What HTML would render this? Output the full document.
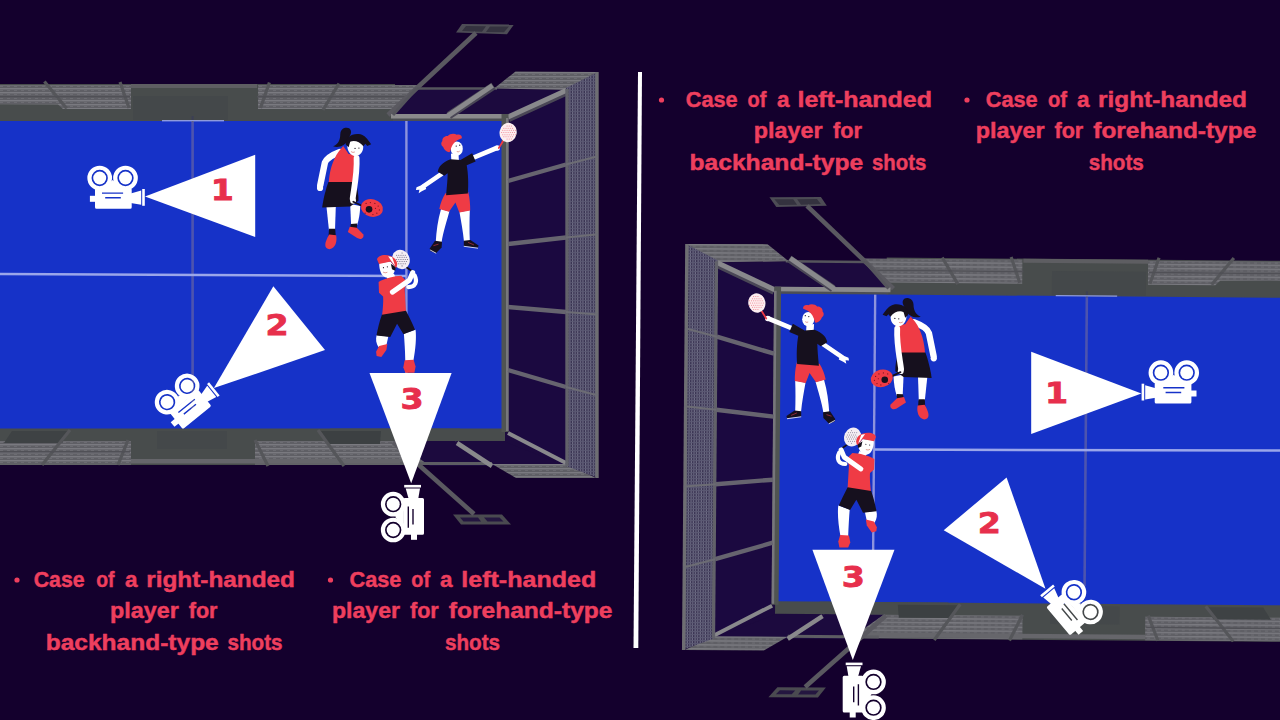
<!DOCTYPE html>
<html><head><meta charset="utf-8"><title>Camera positions</title>
<style>
html,body{margin:0;padding:0;background:#14002d;overflow:hidden}
svg{display:block}
.t{font-family:"Liberation Sans",sans-serif;font-weight:bold;font-size:22px;fill:#ee3f5e;stroke:#ee3f5e;stroke-width:0.45px}
.n{font-family:"DejaVu Sans","Liberation Sans",sans-serif;font-weight:bold;font-size:28.4px;fill:#e72f4c;stroke:#e72f4c;stroke-width:0.8px;text-anchor:middle}
</style></head><body>
<svg width="1280" height="720" viewBox="0 0 1280 720">
<defs>
<pattern id="meshH" width="7" height="4" patternUnits="userSpaceOnUse">
<rect width="7" height="4" fill="#5f5f65"/><rect y="0" width="7" height="1.4" fill="#7a7a80"/><rect x="0" y="2" width="3" height="1" fill="#6d6d73"/>
</pattern>
<pattern id="meshV" width="2.6" height="3" patternUnits="userSpaceOnUse">
<rect width="2.6" height="3" fill="#393352"/><rect width="1.15" height="3" fill="#706e86"/><rect width="2.6" height="0.85" fill="#5a5872"/>
</pattern>
<g id="court">
<polygon points="462,24 514,24.5 507,34.2 456,32.6" fill="#4d4c55"/>
<polygon points="466,26 486,26.3 482,31.8 462,31" fill="#34323f"/>
<polygon points="490,26.4 509,26.6 504,32.2 486,31.9" fill="#34323f"/>
<polygon points="453,514.5 502,514.5 511,524.5 461,524.5" fill="#4a4a50"/>
<polygon points="460,517.5 478,517.5 481,521.5 463.5,521.5" fill="#241640"/>
<polygon points="484,517.5 499.5,517.5 503.5,521.5 487.5,521.5" fill="#241640"/>
<polygon points="393,116 417,88 566,90 566,466 492,466 455,441 508,431 508,117" fill="#1c0a3e"/>
<polygon points="508,117 566,90 566,466 508,431" fill="#1b0940"/>
<rect x="-30" y="120" width="533" height="311.5" fill="#1632c8"/>
<rect x="191.3" y="121" width="2.6" height="290" fill="#4d54ae"/>
<rect x="405.2" y="121" width="2.4" height="308" fill="#8d93dd"/>
<polygon points="-30,272.5 406,274.8 406,277.3 -30,275" fill="#9aa6ea"/>
<rect x="-30" y="84" width="425" height="37" fill="#484c4c"/>
<polygon points="-30,85 131,85 131,109 63,109 58,104.5 -30,104" fill="url(#meshH)"/>
<polygon points="258,85 418,85 395,109 258,109" fill="url(#meshH)"/>
<rect x="131" y="84" width="126" height="4" fill="#5e5e62"/>
<rect x="133" y="96" width="95" height="24" fill="#44484a"/>
<path d="M44.4,81.6 L66.7,108.5" stroke="#55565a" stroke-width="3.2"/>
<path d="M120,82 L129,108" stroke="#55565a" stroke-width="3.2"/>
<path d="M269.4,82.5 L260.5,108" stroke="#55565a" stroke-width="3.2"/>
<path d="M339,83.5 L323,110" stroke="#55565a" stroke-width="3.2"/>
<rect x="-30" y="96" width="160" height="1.6" fill="#505056"/>
<rect x="257" y="96" width="148" height="1.6" fill="#505056"/>
<path d="M388,115 L476,33" stroke="#5a5960" stroke-width="4.6" fill="none"/>
<rect x="191.6" y="116" width="2" height="6" fill="#3c3f55"/>
<rect x="162" y="120" width="62" height="1.4" fill="#8f9bdc"/>
<rect x="-30" y="428.5" width="490" height="36.5" fill="#484c4c"/>
<rect x="-30" y="441" width="161" height="23.5" fill="url(#meshH)"/>
<rect x="255" y="441" width="205" height="23.5" fill="url(#meshH)"/>
<rect x="131" y="459" width="330" height="4.5" fill="#66666b"/>
<polygon points="12,431 70,431 62,443 4,443" fill="#3e4244"/>
<rect x="157" y="431" width="70" height="18" fill="#44484a"/>
<path d="M70,430 L42,465" stroke="#55565a" stroke-width="3.2"/>
<path d="M128,440 L118,465" stroke="#55565a" stroke-width="3.2"/>
<path d="M255,440 L268,466" stroke="#55565a" stroke-width="3.2"/>
<rect x="-30" y="451" width="160" height="1.6" fill="#505056"/>
<polygon points="395,441 455,441 492,466 430,466" fill="#1c0a3e"/>
<polygon points="455,441 503,441 566,466 492,466" fill="#1c0a3e"/>
<rect x="330" y="428.5" width="175" height="12.5" fill="#484c4c"/>
<polygon points="321,431 381,431 380,444 329,444" fill="#3c4042"/>
<path d="M400,463.5 L492,463.5" stroke="#5d5d63" stroke-width="3"/>
<path d="M457,443 L492,466" stroke="#89898c" stroke-width="4.5"/>
<path d="M508,433 L566,463" stroke="#89898c" stroke-width="4"/>
<path d="M318,430 L344,466" stroke="#55565a" stroke-width="3.2"/>
<path d="M393,442 L474,514" stroke="#5a5960" stroke-width="4.6" fill="none"/>
<polygon points="492,464 567,464 596,478 516,478" fill="url(#meshH)"/>
<path d="M417,88.5 L497,88.5" stroke="#55555c" stroke-width="2.5"/>
<polygon points="515.5,71.5 598,72 568,90 494,88.5" fill="url(#meshH)"/>
<rect x="393" y="114" width="115" height="7" fill="#4c4e54"/>
<path d="M391,116.3 L508,116.3" stroke="#8a8a8c" stroke-width="4.6"/>
<path d="M493.5,86 L449,115.5" stroke="#4a4756" stroke-width="7.5"/>
<path d="M492.5,85.5 L447.5,116" stroke="#89898c" stroke-width="5"/>
<path d="M567,93 L509,119.5" stroke="#4a4756" stroke-width="5"/>
<path d="M566,90.5 L508,117" stroke="#89898c" stroke-width="5"/>
<path d="M417,88 L393,115" stroke="#55555c" stroke-width="3"/>
<rect x="501.5" y="114" width="7" height="318" fill="#505452"/>
<rect x="506" y="118" width="2.6" height="313" fill="#77777b"/>
<polygon points="566,88 598,72 598,478 566,466" fill="url(#meshV)"/>
<path d="M597,72 L597,478" stroke="#6e6e72" stroke-width="3.4"/>
<path d="M567,89 L567,466" stroke="#62626a" stroke-width="3.4"/>
<path d="M508,181 L566,164.5" stroke="#66646f" stroke-width="4.4"/>
<path d="M566,164.5 L598,156.25" stroke="#6c6c74" stroke-width="2"/>
<path d="M508,244 L566,237.5" stroke="#66646f" stroke-width="4.4"/>
<path d="M566,237.5 L598,234.25" stroke="#6c6c74" stroke-width="2"/>
<path d="M508,307 L566,312" stroke="#66646f" stroke-width="4.4"/>
<path d="M566,312 L598,314.5" stroke="#6c6c74" stroke-width="2"/>
<path d="M508,370 L566,387" stroke="#66646f" stroke-width="4.4"/>
<path d="M566,387 L598,395.5" stroke="#6c6c74" stroke-width="2"/>
</g>
<g id="cami">
<circle cx="0" cy="0" r="10.25" fill="none" stroke="#fff" stroke-width="4.2"/>
<circle cx="0" cy="0" r="6.5" fill="#fff"/>
<circle cx="25.8" cy="0" r="10.25" fill="none" stroke="#fff" stroke-width="4.2"/>
<circle cx="25.8" cy="0" r="6.5" fill="#fff"/>
<path fill-rule="evenodd" fill="#fff" d="M-3.2,10 H30.5 Q32,10 32,11.5 V29.3 Q32,30.8 30.5,30.8 H-3.2 Q-4.7,30.8 -4.7,29.3 V11.5 Q-4.7,10 -3.2,10 Z M2.3,14.4 H23.4 V15.8 H2.3 Z M5.5,19.1 H21.1 V20.5 H5.5 Z"/>
<path d="M5,9 L12.9,2 L20.8,9 L20.8,10.5 L5,10.5Z" fill="#fff"/>
<rect x="-9.8" y="17.8" width="7" height="6" fill="#fff"/>
<polygon points="31,15.5 41.5,12.5 41.5,26.8 31,25" fill="#fff"/>
<rect x="42.5" y="11" width="2.6" height="16.8" fill="#fff"/>
</g>
<g id="tri"><polygon points="45.3,18.5 155.5,-23.2 155.5,58.9" fill="#fff"/></g>
<g id="girl" transform="translate(300,115) scale(0.19448)">
<path d="M232,66 C256,60 270,80 259,102 L242,135 C230,158 200,170 170,161 C198,150 207,125 207,100 C207,82 217,69 232,66 Z" fill="#16101e"/>
<path d="M136,470 L184,470 L180,592 L149,592 Z" fill="#ffffff"/>
<path d="M258,458 L310,468 C308,510 302,540 294,566 L263,570 Z" fill="#ffffff"/>
<path d="M149,585 L181,585 L184,624 L147,624Z" fill="#16101e"/>
<path d="M261,560 L294,558 L292,586 L257,586Z" fill="#16101e"/>
<path d="M150,614 L186,618 C192,650 182,684 152,690 C124,686 122,662 150,614Z" fill="#ef3b45"/>
<path d="M256,574 L292,580 L326,614 C330,636 310,642 294,633 L246,602 Z" fill="#ef3b45"/>
<path d="M205,190 C165,205 137,222 128,245 L104,362" stroke="#ffffff" stroke-width="33" stroke-linecap="round" stroke-linejoin="round" fill="none"/>
<circle cx="103" cy="375" r="16" fill="#ffffff"/>
<path d="M222,160 L250,200 L299,205 C306,240 300,300 286,348 L148,348 C150,300 165,232 200,186 Z" fill="#ef3b45"/>
<path d="M146,345 L286,345 C296,380 301,410 301,441 L258,471 L114,476 C120,430 133,380 146,345 Z" fill="#16101e"/>
<path d="M291,222 C295,300 277,380 271,430" stroke="#ffffff" stroke-width="30" stroke-linecap="round" fill="none"/>
<circle cx="273" cy="441" r="15" fill="#ffffff"/>
<path d="M244,150 C250,123 300,118 323,150 C331,176 316,206 290,211 C264,213 239,186 244,150Z" fill="#ffffff"/>
<path d="M235,152 C230,115 270,90 311,99 C331,104 346,120 366,151 L346,159 L336,148 L326,161 C306,135 276,127 258,138 L250,166 Z" fill="#16101e"/>
<circle cx="283" cy="172" r="3.2" fill="#16101e"/><circle cx="303" cy="170" r="3.2" fill="#16101e"/>
<path d="M262,188 Q272,196 282,190" stroke="#c0392b" stroke-width="2.5" fill="none"/>
<path d="M274,446 L324,469" stroke="#16101e" stroke-width="9" stroke-linecap="round"/>
<ellipse cx="370" cy="478" rx="57" ry="45" transform="rotate(14 370 478)" fill="#ef3b45"/>
<circle cx="355" cy="485" r="17" fill="#16101e"/>
<circle cx="340" cy="455" r="3.2" fill="#7a1420"/>
<circle cx="362" cy="450" r="3.2" fill="#7a1420"/>
<circle cx="385" cy="455" r="3.2" fill="#7a1420"/>
<circle cx="402" cy="468" r="3.2" fill="#7a1420"/>
<circle cx="408" cy="488" r="3.2" fill="#7a1420"/>
<circle cx="395" cy="505" r="3.2" fill="#7a1420"/>
<circle cx="375" cy="512" r="3.2" fill="#7a1420"/>
<circle cx="335" cy="505" r="3.2" fill="#7a1420"/>
<circle cx="388" cy="480" r="3.2" fill="#7a1420"/>
</g>
<g id="boy" transform="translate(400,115) scale(0.19448)">
<path d="M211,483 L254,496 C242,540 222,600 214,654 L184,651 C187,600 194,540 211,483Z" fill="#ffffff"/>
<path d="M306,500 L359,489 C357,540 357,600 359,646 L329,650 C324,600 314,545 306,500Z" fill="#ffffff"/>
<path d="M180,647 L216,652 L214,681 L186,710 L157,701 L153,686 Z" fill="#16101e"/>
<path d="M328,646 L362,643 L404,671 L401,682 L328,673 Z" fill="#16101e"/>
<path d="M328,675 L401,685" stroke="#e8e8f4" stroke-width="4.5"/>
<path d="M155,694 L186,711" stroke="#e8e8f4" stroke-width="4.5"/>
<path d="M172,672 L198,664" stroke="#b0303c" stroke-width="4"/>
<path d="M350,655 L380,668" stroke="#b0303c" stroke-width="4"/>
<path d="M378,219 L494,171" stroke="#ffffff" stroke-width="24" stroke-linecap="round"/>
<circle cx="500" cy="170" r="14" fill="#ffffff"/>
<path d="M214,303 L118,368" stroke="#ffffff" stroke-width="23" stroke-linecap="round"/>
<path d="M125,355 L85,372 L82,386 L100,384 L96,402 L112,392 L135,380Z" fill="#ffffff"/>
<path d="M234,402 L351,396 C359,430 361,460 361,491 L305,501 L285,450 L252,497 L202,483 C209,450 219,425 234,402Z" fill="#ef3b45"/>
<path d="M262,198 L301,204 L303,238 L264,234Z" fill="#ffffff"/>
<path d="M194,292 C199,265 214,245 260,227 L311,232 L371,197 L389,239 L343,259 C351,300 353,360 349,404 L237,412 C241,370 245,330 245,300 L228,313 Z" fill="#16101e"/>
<ellipse cx="292" cy="173" rx="31" ry="37" fill="#ffffff"/>
<path d="M252,192 C236,186 226,176 222,164 C211,158 209,142 218,134 C215,118 232,105 246,108 C256,95 280,93 292,102 C306,97 321,106 318,119 C310,122 296,126 286,136 C274,146 266,160 262,172 C260,182 258,190 252,192 Z" fill="#ef3b45"/>
<circle cx="289" cy="160" r="3.2" fill="#16101e"/><circle cx="307" cy="155" r="3.2" fill="#16101e"/>
<path d="M292,188 Q300,192 307,186" stroke="#c0392b" stroke-width="2.5" fill="none"/>
<path d="M530,134 L508,170" stroke="#ef3b45" stroke-width="9" stroke-linecap="round"/>
<ellipse cx="556" cy="90" rx="44" ry="50" transform="rotate(12 556 90)" fill="#fdeef0"/>
<circle cx="528.5" cy="79" r="2.6" fill="#f07a85"/>
<circle cx="523.0" cy="90" r="2.6" fill="#f07a85"/>
<circle cx="528.5" cy="101" r="2.6" fill="#f07a85"/>
<circle cx="534.0" cy="68" r="2.6" fill="#f07a85"/>
<circle cx="539.5" cy="79" r="2.6" fill="#f07a85"/>
<circle cx="534.0" cy="90" r="2.6" fill="#f07a85"/>
<circle cx="539.5" cy="101" r="2.6" fill="#f07a85"/>
<circle cx="534.0" cy="112" r="2.6" fill="#f07a85"/>
<circle cx="550.5" cy="57" r="2.6" fill="#f07a85"/>
<circle cx="545.0" cy="68" r="2.6" fill="#f07a85"/>
<circle cx="550.5" cy="79" r="2.6" fill="#f07a85"/>
<circle cx="545.0" cy="90" r="2.6" fill="#f07a85"/>
<circle cx="550.5" cy="101" r="2.6" fill="#f07a85"/>
<circle cx="545.0" cy="112" r="2.6" fill="#f07a85"/>
<circle cx="550.5" cy="123" r="2.6" fill="#f07a85"/>
<circle cx="561.5" cy="57" r="2.6" fill="#f07a85"/>
<circle cx="556.0" cy="68" r="2.6" fill="#f07a85"/>
<circle cx="561.5" cy="79" r="2.6" fill="#f07a85"/>
<circle cx="556.0" cy="90" r="2.6" fill="#f07a85"/>
<circle cx="561.5" cy="101" r="2.6" fill="#f07a85"/>
<circle cx="556.0" cy="112" r="2.6" fill="#f07a85"/>
<circle cx="561.5" cy="123" r="2.6" fill="#f07a85"/>
<circle cx="572.5" cy="57" r="2.6" fill="#f07a85"/>
<circle cx="567.0" cy="68" r="2.6" fill="#f07a85"/>
<circle cx="572.5" cy="79" r="2.6" fill="#f07a85"/>
<circle cx="567.0" cy="90" r="2.6" fill="#f07a85"/>
<circle cx="572.5" cy="101" r="2.6" fill="#f07a85"/>
<circle cx="567.0" cy="112" r="2.6" fill="#f07a85"/>
<circle cx="572.5" cy="123" r="2.6" fill="#f07a85"/>
<circle cx="578.0" cy="68" r="2.6" fill="#f07a85"/>
<circle cx="583.5" cy="79" r="2.6" fill="#f07a85"/>
<circle cx="578.0" cy="90" r="2.6" fill="#f07a85"/>
<circle cx="583.5" cy="101" r="2.6" fill="#f07a85"/>
<circle cx="578.0" cy="112" r="2.6" fill="#f07a85"/>
<circle cx="594.5" cy="79" r="2.6" fill="#f07a85"/>
<circle cx="589.0" cy="90" r="2.6" fill="#f07a85"/>
<circle cx="594.5" cy="101" r="2.6" fill="#f07a85"/>
</g>
<g id="p3" transform="translate(350,240) scale(0.19455)">
<path d="M290,140 L327,166" stroke="#16101e" stroke-width="9" stroke-linecap="round"/>
<ellipse cx="262" cy="100" rx="44" ry="51" transform="rotate(-25 262 100)" fill="#f4eef4"/>
<circle cx="229.0" cy="100" r="2.6" fill="#5a5570"/>
<circle cx="240.0" cy="78" r="2.6" fill="#5a5570"/>
<circle cx="245.5" cy="89" r="2.6" fill="#5a5570"/>
<circle cx="240.0" cy="100" r="2.6" fill="#5a5570"/>
<circle cx="245.5" cy="111" r="2.6" fill="#5a5570"/>
<circle cx="240.0" cy="122" r="2.6" fill="#5a5570"/>
<circle cx="251.0" cy="78" r="2.6" fill="#5a5570"/>
<circle cx="256.5" cy="89" r="2.6" fill="#5a5570"/>
<circle cx="251.0" cy="100" r="2.6" fill="#5a5570"/>
<circle cx="256.5" cy="111" r="2.6" fill="#5a5570"/>
<circle cx="251.0" cy="122" r="2.6" fill="#5a5570"/>
<circle cx="267.5" cy="67" r="2.6" fill="#5a5570"/>
<circle cx="262.0" cy="78" r="2.6" fill="#5a5570"/>
<circle cx="267.5" cy="89" r="2.6" fill="#5a5570"/>
<circle cx="262.0" cy="100" r="2.6" fill="#5a5570"/>
<circle cx="267.5" cy="111" r="2.6" fill="#5a5570"/>
<circle cx="262.0" cy="122" r="2.6" fill="#5a5570"/>
<circle cx="267.5" cy="133" r="2.6" fill="#5a5570"/>
<circle cx="273.0" cy="78" r="2.6" fill="#5a5570"/>
<circle cx="278.5" cy="89" r="2.6" fill="#5a5570"/>
<circle cx="273.0" cy="100" r="2.6" fill="#5a5570"/>
<circle cx="278.5" cy="111" r="2.6" fill="#5a5570"/>
<circle cx="273.0" cy="122" r="2.6" fill="#5a5570"/>
<circle cx="284.0" cy="78" r="2.6" fill="#5a5570"/>
<circle cx="289.5" cy="89" r="2.6" fill="#5a5570"/>
<circle cx="284.0" cy="100" r="2.6" fill="#5a5570"/>
<circle cx="289.5" cy="111" r="2.6" fill="#5a5570"/>
<circle cx="284.0" cy="122" r="2.6" fill="#5a5570"/>
<circle cx="295.0" cy="100" r="2.6" fill="#5a5570"/>
<path d="M137,488 L197,496 L187,541 L146,550 C134,530 131,510 137,488Z" fill="#ffffff"/>
<path d="M150,545 L192,534 L187,566 L161,602 L137,596 L134,575Z" fill="#ef3b45"/>
<path d="M277,482 L337,461 C342,500 337,560 326,619 L285,622 C283,570 280,520 277,482Z" fill="#ffffff"/>
<path d="M281,618 L327,615 L337,650 L331,682 L285,682 L274,655Z" fill="#ef3b45"/>
<path d="M185,185 L226,174 L237,201 L200,212Z" fill="#ffffff"/>
<path d="M147,216 C170,200 230,184 263,184 L293,215 L281,250 C283,290 286,330 288,370 L164,394 C170,350 172,310 170,290 L149,271 Z" fill="#ef3b45"/>
<path d="M164,384 L288,364 C306,400 321,430 334,461 L275,484 L242,430 L207,498 L136,491 C144,450 151,420 164,384Z" fill="#16101e"/>
<path d="M300,242 C336,242 348,215 332,182" stroke="#ffffff" stroke-width="22" stroke-linecap="round" fill="none"/>
<path d="M218,268 L306,206 L322,168" stroke="#ffffff" stroke-width="26" stroke-linecap="round" stroke-linejoin="round" fill="none"/>
<path d="M150,118 L208,110 L233,140 C231,170 216,191 190,193 C164,191 150,160 150,118Z" fill="#ffffff"/>
<path d="M210,122 L236,140 L232,158 L216,150Z" fill="#16101e"/>
<circle cx="172" cy="142" r="3" fill="#16101e"/><circle cx="192" cy="138" r="3" fill="#16101e"/>
<path d="M170,165 Q180,172 192,166" stroke="#c0392b" stroke-width="2.5" fill="none"/>
<path d="M139,100 C141,82 175,70 211,83 C240,94 250,120 237,144 L209,111 L149,123 Z" fill="#ef3b45"/>
<path d="M196,84 L216,88 L232,132 L222,122Z" fill="#ffffff"/>
</g>
</defs>
<rect width="1280" height="720" fill="#14002d"/>
<use href="#court"/>
<use href="#court" transform="matrix(-0.99,-0.0079,-0.008,1,1278.5,176.7)"/>
<use href="#girl"/>
<use href="#boy"/>
<use href="#p3"/>
<use href="#girl" transform="translate(1253.8,170.4) scale(-1,1)"/>
<use href="#boy" transform="translate(1265,170.5) scale(-1,1)"/>
<use href="#p3" transform="translate(1244.3,183.5) scale(-0.977,0.977)"/>
<g transform="translate(99.7,178)"><use href="#tri" x="0" y="0"/><use href="#cami" x="0" y="0"/></g>
<g transform="translate(167.1,402.2) rotate(-39)"><use href="#tri" x="0" y="0"/><use href="#cami" x="0" y="0"/></g>
<g transform="translate(393.2,530) rotate(-90)"><use href="#tri" x="1.5" y="-0.5"/><use href="#cami" x="0" y="0"/></g>
<g transform="translate(1186.7,375) scale(-1,1)"><use href="#tri" x="0" y="0"/><use href="#cami" x="0" y="-2.3"/></g>
<g transform="translate(1090.5,612) scale(-1,1) rotate(-50)"><use href="#tri" x="1.5" y="1.0"/><use href="#cami" x="0" y="0"/></g>
<g transform="translate(873.5,707.7) scale(-1,1) rotate(-90)"><use href="#tri" x="2.5" y="2.2"/><use href="#cami" x="0" y="0"/></g>
<text transform="translate(222.4,200.2) scale(1.17,1)" class="n">1</text>
<text transform="translate(277,335.2) scale(1.17,1)" class="n">2</text>
<text transform="translate(412,409.2) scale(1.17,1)" class="n">3</text>
<text transform="translate(1056.5,403.2) scale(1.17,1)" class="n">1</text>
<text transform="translate(989.4,532.7) scale(1.17,1)" class="n">2</text>
<text transform="translate(853.2,587.2) scale(1.17,1)" class="n">3</text>
<polygon points="638,72 642,72 638.3,648 633.5,648" fill="#fff"/>
<circle cx="17" cy="580" r="2.6" fill="#ee3f5e"/>
<text x="33.75" y="587" textLength="50.75" lengthAdjust="spacingAndGlyphs" class="t">Case</text>
<text x="96.25" y="587" textLength="18.25" lengthAdjust="spacingAndGlyphs" class="t">of</text>
<text x="125" y="587" textLength="12.50" lengthAdjust="spacingAndGlyphs" class="t">a</text>
<text x="146.25" y="587" textLength="148.75" lengthAdjust="spacingAndGlyphs" class="t">right-handed</text>
<text x="110" y="617.5" textLength="68.75" lengthAdjust="spacingAndGlyphs" class="t">player</text>
<text x="188.75" y="617.5" textLength="28.75" lengthAdjust="spacingAndGlyphs" class="t">for</text>
<text x="45.75" y="650" textLength="173.00" lengthAdjust="spacingAndGlyphs" class="t">backhand-type</text>
<text x="227.5" y="650" textLength="55.00" lengthAdjust="spacingAndGlyphs" class="t">shots</text>
<circle cx="330.5" cy="580" r="2.6" fill="#ee3f5e"/>
<text x="349.5" y="587" textLength="51.75" lengthAdjust="spacingAndGlyphs" class="t">Case</text>
<text x="411.25" y="587" textLength="18.75" lengthAdjust="spacingAndGlyphs" class="t">of</text>
<text x="440" y="587" textLength="12.50" lengthAdjust="spacingAndGlyphs" class="t">a</text>
<text x="461.25" y="587" textLength="135.00" lengthAdjust="spacingAndGlyphs" class="t">left-handed</text>
<text x="332" y="617.5" textLength="68.00" lengthAdjust="spacingAndGlyphs" class="t">player</text>
<text x="410" y="617.5" textLength="28.75" lengthAdjust="spacingAndGlyphs" class="t">for</text>
<text x="448.75" y="617.5" textLength="163.75" lengthAdjust="spacingAndGlyphs" class="t">forehand-type</text>
<text x="445" y="650" textLength="55.00" lengthAdjust="spacingAndGlyphs" class="t">shots</text>
<circle cx="661.5" cy="100" r="2.6" fill="#ee3f5e"/>
<text x="685.75" y="107" textLength="51.75" lengthAdjust="spacingAndGlyphs" class="t">Case</text>
<text x="747.5" y="107" textLength="18.75" lengthAdjust="spacingAndGlyphs" class="t">of</text>
<text x="777" y="107" textLength="12.50" lengthAdjust="spacingAndGlyphs" class="t">a</text>
<text x="797.5" y="107" textLength="134.50" lengthAdjust="spacingAndGlyphs" class="t">left-handed</text>
<text x="753.75" y="137.5" textLength="68.75" lengthAdjust="spacingAndGlyphs" class="t">player</text>
<text x="833" y="137.5" textLength="29.00" lengthAdjust="spacingAndGlyphs" class="t">for</text>
<text x="689.5" y="170" textLength="173.75" lengthAdjust="spacingAndGlyphs" class="t">backhand-type</text>
<text x="872" y="170" textLength="54.25" lengthAdjust="spacingAndGlyphs" class="t">shots</text>
<circle cx="967" cy="100" r="2.6" fill="#ee3f5e"/>
<text x="985.75" y="107" textLength="51.75" lengthAdjust="spacingAndGlyphs" class="t">Case</text>
<text x="1048" y="107" textLength="19.00" lengthAdjust="spacingAndGlyphs" class="t">of</text>
<text x="1077" y="107" textLength="12.50" lengthAdjust="spacingAndGlyphs" class="t">a</text>
<text x="1098" y="107" textLength="149.00" lengthAdjust="spacingAndGlyphs" class="t">right-handed</text>
<text x="975.75" y="137.5" textLength="68.75" lengthAdjust="spacingAndGlyphs" class="t">player</text>
<text x="1054.5" y="137.5" textLength="28.75" lengthAdjust="spacingAndGlyphs" class="t">for</text>
<text x="1093.25" y="137.5" textLength="163.00" lengthAdjust="spacingAndGlyphs" class="t">forehand-type</text>
<text x="1088.75" y="170" textLength="55.00" lengthAdjust="spacingAndGlyphs" class="t">shots</text>
</svg>
</body></html>
